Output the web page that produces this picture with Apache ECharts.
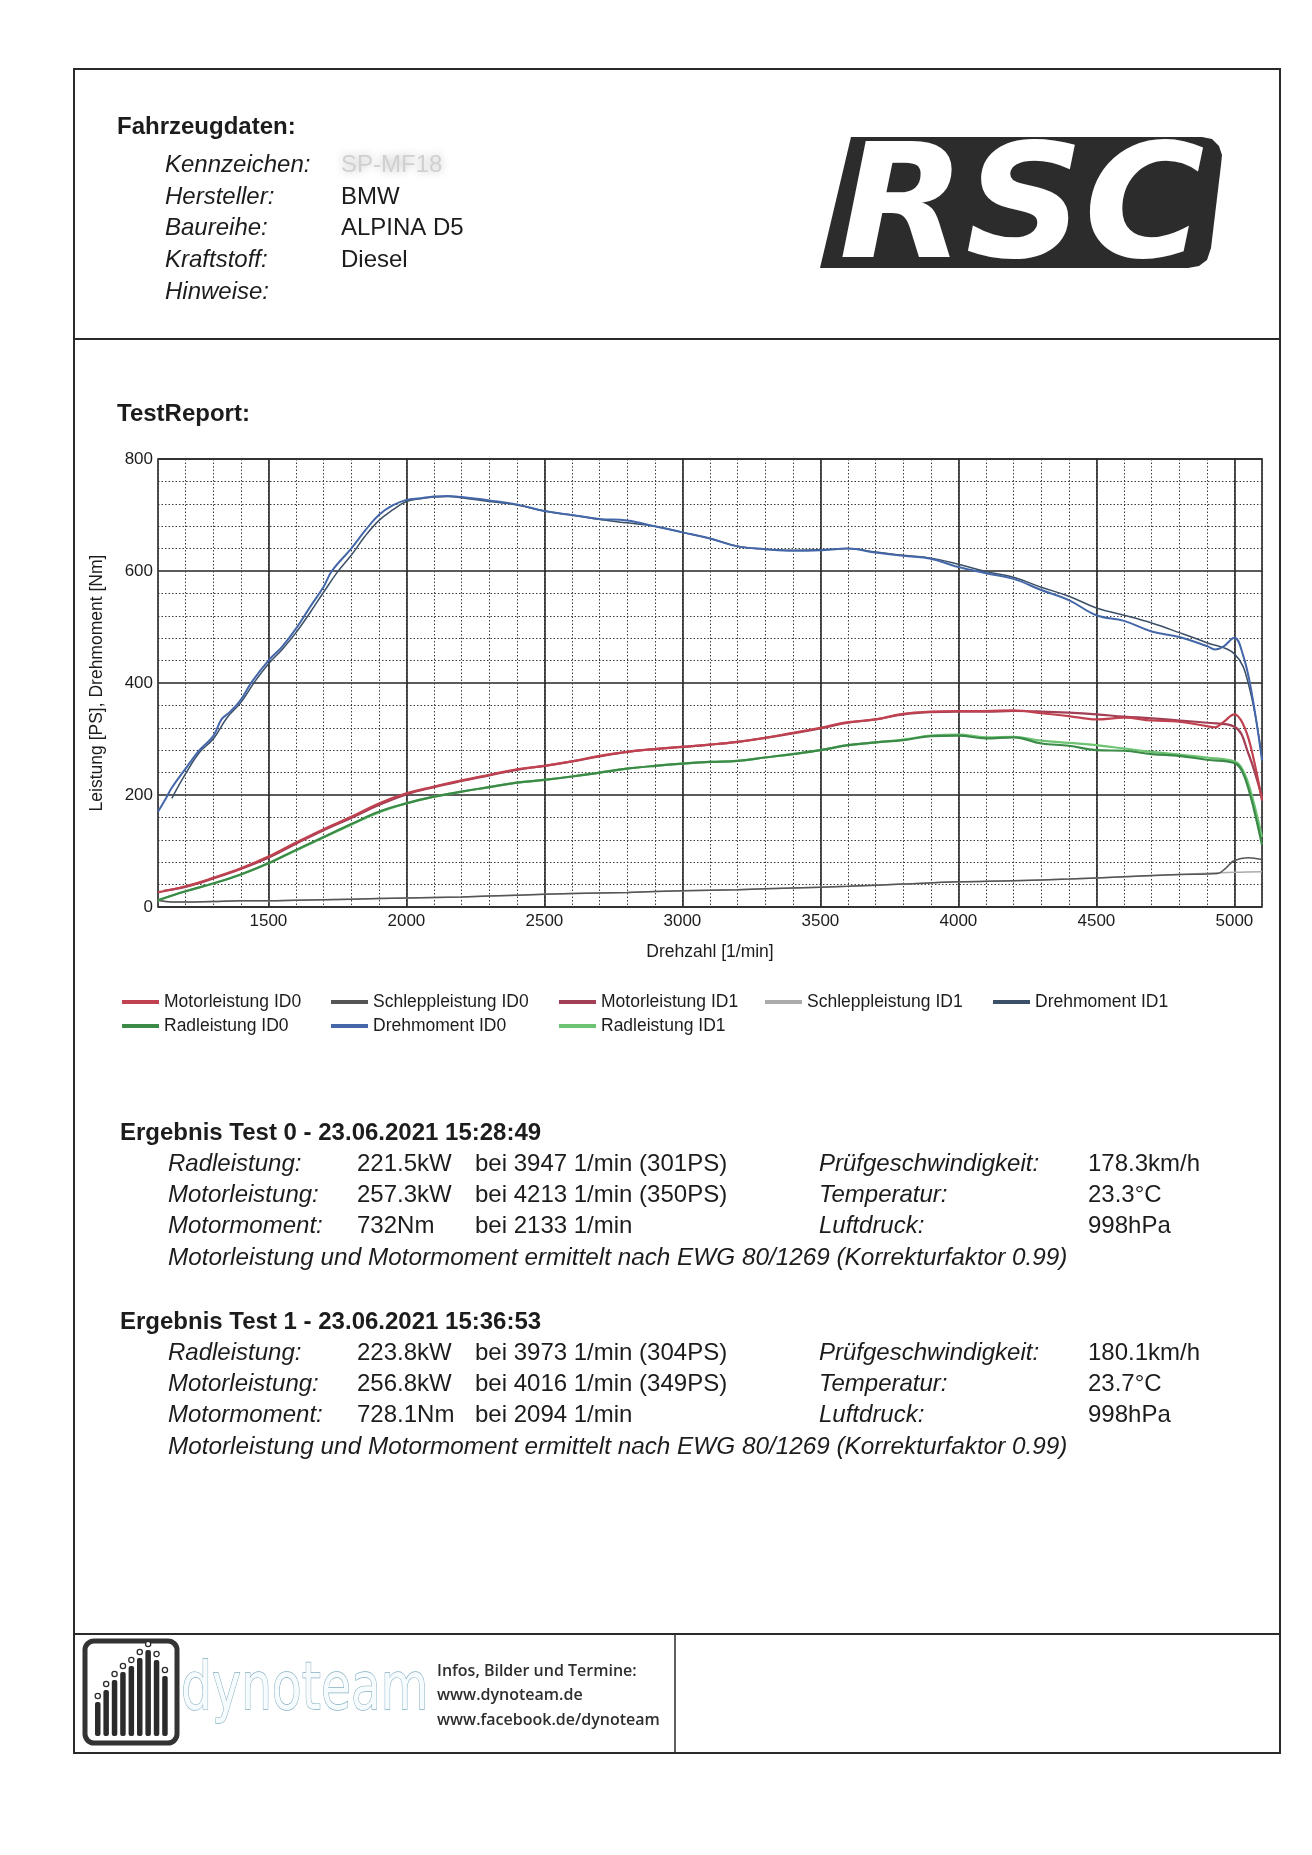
<!DOCTYPE html>
<html><head><meta charset="utf-8">
<script src="https://cdn.jsdelivr.net/npm/echarts/dist/echarts.min.js"></script>
<style>html,body{margin:0;padding:0;background:#fff}#c{width:1312px;height:1855px}</style>
</head><body><div id="c"></div>
<script>
// ---------- chart data ----------
const xTicks = [1500, 2000, 2500, 3000, 3500, 4000, 4500, 5000];
const yTicks = [0, 200, 400, 600, 800];

const rpmDreh0 = [1100,1130,1150,1200,1250,1300,1330,1360,1400,1440,1500,1550,1600,1650,1700,1730,1800,1850,1900,1950,2000,2050,2100,2150,2200,2300,2400,2500,2600,2700,2800,2900,3000,3100,3200,3300,3400,3500,3600,3700,3800,3900,4000,4100,4200,4300,4400,4500,4600,4700,4800,4900,4930,4960,5000,5030,5060,5100];
const dreh0 =    [170,195,213,247,280,305,335,348,370,402,440,465,497,535,572,600,640,672,700,717,727,730,733,734,732,726,719,707,700,693,690,680,669,658,644,639,636,637,640,633,627,622,607,596,586,566,548,521,511,492,482,466,460,465,481,452,390,262];

const rpmDreh1 = [1150,1200,1250,1300,1350,1400,1450,1500,1550,1600,1650,1700,1750,1800,1850,1900,1950,2000,2050,2100,2150,2200,2300,2400,2500,2600,2700,2800,2900,3000,3100,3200,3300,3400,3500,3600,3700,3800,3900,4000,4100,4200,4300,4400,4500,4600,4700,4800,4900,5000,5050,5100];
const dreh1 =    [194,238,276,300,338,365,402,434,460,490,525,562,598,628,662,690,709,724,729,732,733,731,724,718,707,700,692,686,680,669,658,644,639,637,638,640,634,628,623,612,599,589,571,555,534,521,507,490,472,452,400,265];

const rpmMotor0 = [1100,1200,1300,1400,1500,1600,1700,1800,1900,2000,2100,2200,2300,2400,2500,2600,2700,2800,2900,3000,3100,3200,3300,3400,3500,3600,3700,3800,3900,4000,4100,4200,4300,4400,4500,4600,4700,4800,4900,4930,4960,5000,5030,5060,5100];
const motor0 =    [26,37,52,69,90,115,139,161,185,203,215,226,236,246,252,260,270,277,282,286,290,295,302,311,320,330,335,345,349,350,350,351,346,341,335,338,333,331,323,321,330,344,328,285,190];

const rpmMotor1 = [1120,1200,1300,1400,1500,1600,1700,1800,1900,2000,2100,2200,2300,2400,2500,2600,2700,2800,2900,3000,3100,3200,3300,3400,3500,3600,3700,3800,3900,4000,4100,4200,4300,4400,4500,4600,4700,4800,4900,5000,5050,5100];
const motor1 =    [29,36,51,68,88,113,137,159,182,201,214,225,235,245,252,260,269,277,282,286,290,295,302,310,319,329,335,344,348,349,349,350,349,347,344,340,337,333,329,322,275,195];

const rpmRad0 = [1100,1200,1300,1400,1500,1600,1700,1800,1900,2000,2100,2200,2300,2400,2500,2600,2700,2800,2900,3000,3100,3200,3300,3400,3500,3600,3700,3800,3900,4000,4100,4200,4300,4400,4500,4600,4700,4800,4900,5000,5030,5060,5080,5100];
const rad0 =    [12,28,42,58,78,102,125,148,170,185,197,206,214,222,227,233,240,247,252,256,259,261,267,273,280,289,294,298,305,306,301,303,292,288,280,279,273,270,263,257,240,195,155,111];

const rpmRad1 = [1100,1200,1300,1400,1500,1600,1700,1800,1900,2000,2100,2200,2300,2400,2500,2600,2700,2800,2900,3000,3100,3200,3300,3400,3500,3600,3700,3800,3900,4000,4100,4200,4300,4400,4500,4600,4700,4800,4900,5000,5030,5060,5100];
const rad1 =    [12,28,42,58,78,101,124,147,169,185,197,206,214,222,227,233,240,247,252,256,259,261,267,273,280,289,294,299,306,308,303,304,297,293,289,283,277,272,267,260,245,205,125];

const rpmSchlepp0 = [1100,1150,1200,1300,1400,1500,1600,1800,2000,2200,2400,2600,2800,3000,3200,3400,3600,3800,4000,4200,4400,4600,4800,4940,4970,5000,5050,5100];
const schlepp0 =    [12,9,9,10,11,11,12,14,16,18,21,24,26,29,31,34,37,41,45,47,50,54,58,60,70,83,88,85];

const rpmSchlepp1 = [1100,1150,1200,1300,1400,1500,1600,1800,2000,2200,2400,2600,2800,3000,3200,3400,3600,3800,4000,4200,4400,4600,4800,5000,5100];
const schlepp1 =    [11,9,9,10,11,11,12,14,16,18,21,24,26,29,31,34,37,41,45,47,50,54,58,62,63];

// ---------- page texts ----------
const vehicleLabels = ['Kennzeichen:', 'Hersteller:', 'Baureihe:', 'Kraftstoff:', 'Hinweise:'];
const vehicleValues = ['SP-MF18', 'BMW', 'ALPINA D5', 'Diesel', ''];
const test0Head = 'Ergebnis Test 0 - 23.06.2021 15:28:49';
const test0Rows = [
  ['Radleistung:', '221.5kW', 'bei 3947 1/min (301PS)', 'Prüfgeschwindigkeit:', '178.3km/h'],
  ['Motorleistung:', '257.3kW', 'bei 4213 1/min (350PS)', 'Temperatur:', '23.3°C'],
  ['Motormoment:', '732Nm', 'bei 2133 1/min', 'Luftdruck:', '998hPa']
];
const test1Head = 'Ergebnis Test 1 - 23.06.2021 15:36:53';
const test1Rows = [
  ['Radleistung:', '223.8kW', 'bei 3973 1/min (304PS)', 'Prüfgeschwindigkeit:', '180.1km/h'],
  ['Motorleistung:', '256.8kW', 'bei 4016 1/min (349PS)', 'Temperatur:', '23.7°C'],
  ['Motormoment:', '728.1Nm', 'bei 2094 1/min', 'Luftdruck:', '998hPa']
];
const noteText = 'Motorleistung und Motormoment ermittelt nach EWG 80/1269 (Korrekturfaktor 0.99)';

// ---------- build ----------
const zip = (xs, ys) => xs.map((x, i) => [x, ys[i]]);
const FONT = '"Liberation Sans", Arial, sans-serif';
const INK = '#1c1c1c';

function T(text, x, y, o) {
  return {type: 'text', x: x, y: y, silent: true, style: Object.assign({
    text: text, fill: INK, fontSize: 24, fontFamily: FONT,
    textAlign: 'left', align: 'left', textVerticalAlign: 'middle', verticalAlign: 'middle'
  }, o || {})};
}
function L(x1, y1, x2, y2, w) {
  return {type: 'line', silent: true, shape: {x1, y1, x2, y2}, style: {stroke: '#2a2a2a', lineWidth: w || 2}};
}

const g = [];
// page frame
g.push({type: 'rect', silent: true, shape: {x: 74, y: 69, width: 1206, height: 1684}, style: {fill: 'none', stroke: '#2a2a2a', lineWidth: 2}});
g.push(L(74, 339, 1280, 339));
g.push(L(74, 1634, 1280, 1634));
g.push(L(675, 1634, 675, 1753, 1.5));

// vehicle block
g.push(T('Fahrzeugdaten:', 117, 127, {fontWeight: 'bold'}));
const vy = [165, 197, 228, 260, 292];
vehicleLabels.forEach((l, i) => g.push(T(l, 165, vy[i], {fontStyle: 'italic'})));
vehicleValues.forEach((v, i) => {
  if (!v) return;
  if (i === 0) g.push(T(v, 341, vy[i], {fill: '#d0d0d0', textShadowColor: '#b8b8b8', textShadowBlur: 10}));
  else g.push(T(v, 341, vy[i]));
});

// RSC logo
g.push({type: 'polygon', silent: true, shape: {points: [[851,137],[1202,137],[1212,139],[1219,146],[1222,155],[1221,165],[1211,248],[1207,260],[1199,266],[1188,268],[820,268]]}, style: {fill: '#2c2c2c'}});
g.push({type: 'text', x: 839, y: 216, scaleX: 1.04, silent: true, style: {
  text: 'RSC', fill: '#ffffff', fontSize: 158, fontWeight: 'bold', fontStyle: 'italic',
  fontFamily: '"DejaVu Sans", sans-serif', textAlign: 'left', align: 'left', textVerticalAlign: 'middle', verticalAlign: 'middle'}});

g.push(T('TestReport:', 117, 414, {fontWeight: 'bold'}));

// results
function block(head, rows, y0) {
  g.push(T(head, 120, y0, {fontWeight: 'bold'}));
  const ys = [y0 + 31, y0 + 62, y0 + 93];
  rows.forEach((r, i) => {
    g.push(T(r[0], 168, ys[i], {fontStyle: 'italic'}));
    g.push(T(r[1], 357, ys[i]));
    g.push(T(r[2], 475, ys[i]));
    g.push(T(r[3], 819, ys[i], {fontStyle: 'italic'}));
    g.push(T(r[4], 1088, ys[i]));
  });
  g.push(T(noteText, 168, y0 + 125, {fontStyle: 'italic', fontSize: 24.3}));
}
block(test0Head, test0Rows, 1133);
block(test1Head, test1Rows, 1322);

// dynoteam footer logo
g.push({type: 'rect', silent: true, shape: {x: 85, y: 1641, width: 92, height: 102, r: 9}, style: {fill: '#fff', stroke: '#333', lineWidth: 5}});
const barH = [34, 46, 56, 64, 70, 78, 86, 76, 60];
barH.forEach((h, i) => {
  const bx = 95 + i * 8.4;
  g.push({type: 'rect', silent: true, shape: {x: bx, y: 1736 - h, width: 5.5, height: h, r: 2}, style: {fill: '#2b2b2b'}});
  g.push({type: 'circle', silent: true, shape: {cx: bx + 2.75, cy: 1736 - h - 6, r: 2.6}, style: {fill: '#fff', stroke: '#2b2b2b', lineWidth: 1.3}});
});
g.push({type: 'text', x: 181, y: 1692, scaleX: 0.74, silent: true, style: {
  text: 'dynoteam', fill: '#f6fbfd', stroke: '#86aec0', lineWidth: 1.3, fontSize: 66,
  fontFamily: '"DejaVu Sans", sans-serif', textAlign: 'left', align: 'left', textVerticalAlign: 'middle', verticalAlign: 'middle'}});
const footLines = ['Infos, Bilder und Termine:', 'www.dynoteam.de', 'www.facebook.de/dynoteam'];
footLines.forEach((t, i) => g.push(T(t, 437, 1671 + i * 24.5, {fontSize: 16, fontWeight: 600, fontFamily: '"Open Sans", sans-serif', fill: '#2e2e2e'})));

// series
const lineS = (name, xs, ys, color, w, z) => ({
  name, type: 'line', data: zip(xs, ys), showSymbol: false, symbol: 'none',
  smooth: 0.4, z: z || 3, silent: true,
  lineStyle: {color, width: w}, itemStyle: {color}
});

const series = [
  Object.assign(lineS('Schleppleistung ID1', rpmSchlepp1, schlepp1, '#ababab', 1.5), {
    markLine: {silent: true, z: 1, symbol: 'none', label: {show: false}, animation: false,
      lineStyle: {color: '#262626', width: 1.6, type: 'solid'},
      data: xTicks.map(v => ({xAxis: v}))}
  }),
  lineS('Schleppleistung ID0', rpmSchlepp0, schlepp0, '#555555', 1.5),
  lineS('Radleistung ID1', rpmRad1, rad1, '#6cc472', 2.2),
  lineS('Radleistung ID0', rpmRad0, rad0, '#3b8a48', 2.2),
  lineS('Motorleistung ID1', rpmMotor1, motor1, '#a23f55', 2.2),
  lineS('Motorleistung ID0', rpmMotor0, motor0, '#c0414f', 2.2),
  lineS('Drehmoment ID1', rpmDreh1, dreh1, '#3b4f66', 1.5),
  lineS('Drehmoment ID0', rpmDreh0, dreh0, '#4467aa', 2)
];

const legendBase = {orient: 'vertical', top: 993, padding: 0, itemGap: 6, itemWidth: 37, itemHeight: 4,
  icon: 'rect', selectedMode: false,
  textStyle: {fontSize: 17.5, fontFamily: FONT, color: INK, lineHeight: 17}};
const legendCols = [
  [122, ['Motorleistung ID0', 'Radleistung ID0']],
  [331, ['Schleppleistung ID0', 'Drehmoment ID0']],
  [559, ['Motorleistung ID1', 'Radleistung ID1']],
  [765, ['Schleppleistung ID1']],
  [993, ['Drehmoment ID1']]
];

const chart = echarts.init(document.getElementById('c'), null, {renderer: 'canvas'});
chart.setOption({
  animation: false,
  backgroundColor: '#ffffff',
  grid: {left: 158, top: 459, width: 1104, height: 448, show: true, borderColor: '#262626', borderWidth: 1.6, containLabel: false},
  xAxis: {
    type: 'value', min: 1100, max: 5100, interval: 100,
    name: 'Drehzahl [1/min]', nameLocation: 'middle', nameGap: 36,
    nameTextStyle: {fontSize: 17.5, fontFamily: FONT, color: INK},
    axisLine: {show: false}, axisTick: {show: false},
    axisLabel: {fontSize: 17, fontFamily: FONT, color: INK, margin: 6,
      formatter: v => (xTicks.indexOf(v) >= 0 ? String(v) : '')},
    splitLine: {show: true, lineStyle: {color: '#3a3a3a', width: 1, type: [1.5, 2]}}
  },
  yAxis: {
    type: 'value', min: 0, max: 800, interval: 200,
    name: 'Leistung [PS], Drehmoment [Nm]', nameLocation: 'middle', nameGap: 52, nameRotate: 90,
    nameTextStyle: {fontSize: 17.5, fontFamily: FONT, color: INK},
    axisLine: {show: false}, axisTick: {show: false},
    axisLabel: {fontSize: 17, fontFamily: FONT, color: INK, margin: 5,
      formatter: v => (yTicks.indexOf(v) >= 0 ? String(v) : '')},
    splitLine: {show: true, lineStyle: {color: '#262626', width: 1.6}},
    minorTick: {show: false, splitNumber: 5},
    minorSplitLine: {show: true, lineStyle: {color: '#3a3a3a', width: 1, type: [1.5, 2]}}
  },
  legend: legendCols.map(c => Object.assign({}, legendBase, {left: c[0], data: c[1]})),
  series: series,
  graphic: {elements: g}
});
</script></body></html>
